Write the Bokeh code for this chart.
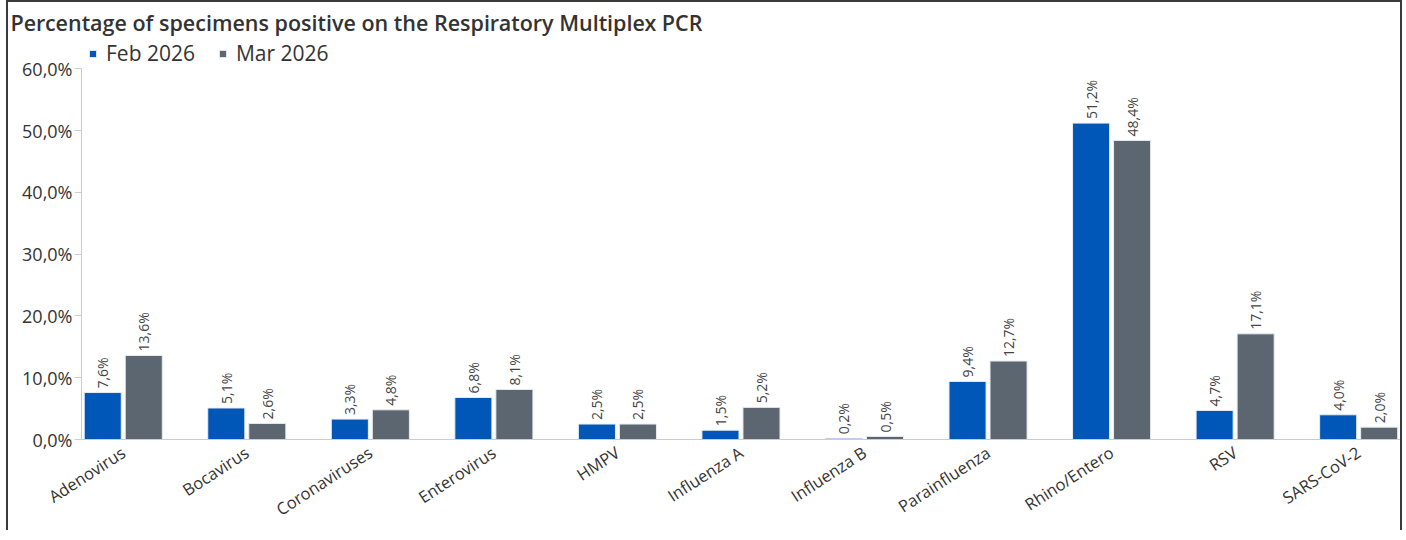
import math
from bokeh.plotting import figure
from bokeh.models import ColumnDataSource, FixedTicker, Legend, LegendItem, Range1d
from bokeh.core.properties import value
from bokeh.embed import file_html
from bokeh.resources import INLINE

categories = ["Adenovirus", "Bocavirus", "Coronaviruses", "Enterovirus", "HMPV",
              "Influenza A", "Influenza B", "Parainfluenza", "Rhino/Entero", "RSV", "SARS-CoV-2"]
feb_2026 = [7.6, 5.1, 3.3, 6.8, 2.5, 1.5, 0.2, 9.4, 51.2, 4.7, 4.0]
mar_2026 = [13.6, 2.6, 4.8, 8.1, 2.5, 5.2, 0.5, 12.7, 48.4, 17.1, 2.0]
series_names = ["Feb 2026", "Mar 2026"]
y_ticks = [0, 10, 20, 30, 40, 50, 60]
y_tick_labels = ["0,0%", "10,0%", "20,0%", "30,0%", "40,0%", "50,0%", "60,0%"]

BLUE = "#0057B8"
GREY = "#5C6670"
TXT = "#333333"
FONT = "Open Sans"

def fmt(v):
    return f"{v:.1f}".replace(".", ",") + "%"

idx = list(range(len(categories)))
off = 0.166
bw = 0.30
src_feb = ColumnDataSource(dict(x=[i - off for i in idx], top=feb_2026,
                                lab=[fmt(v) for v in feb_2026]))
src_mar = ColumnDataSource(dict(x=[i + off for i in idx], top=mar_2026,
                                lab=[fmt(v) for v in mar_2026]))

p = figure(width=1396, height=530, output_backend="svg", toolbar_location=None,
           x_range=Range1d(-0.338, 10.371), y_range=Range1d(0, 64.57),
           min_border_left=73, min_border_right=0, min_border_bottom=93,
           min_border_top=0)
p.styles = {"border-left": "2px solid #3a3a3a", "border-top": "2px solid #3a3a3a",
            "border-right": "2px solid #3a3a3a", "margin-left": "6px"}

r1 = p.vbar(x="x", top="top", width=bw, source=src_feb, fill_color=BLUE,
            line_color="#e8ecf2", line_width=1)
r2 = p.vbar(x="x", top="top", width=bw, source=src_mar, fill_color=GREY,
            line_color="#e8ecf2", line_width=1)

for src in (src_feb, src_mar):
    p.text(x="x", y="top", text="lab", source=src, angle=math.pi / 2,
           text_align="left", text_baseline="middle", y_offset=-4,
           text_font=value(FONT), text_font_size="14px", text_color="#444444")

p.title.text = "Percentage of specimens positive on the Respiratory Multiplex PCR"
p.title.text_font = "Open Sans SemiBold, Open Sans"
p.title.text_font_size = "21.5px"
p.title.text_font_style = "normal"
p.title.text_color = TXT
p.title.align = "left"
p.title.offset = -71
p.title.standoff = 7

legend = Legend(items=[LegendItem(label=series_names[0], renderers=[r1]),
                       LegendItem(label=series_names[1], renderers=[r2])],
                orientation="horizontal", location=(7, 372))
legend.label_text_font = FONT
legend.label_text_font_size = "21px"
legend.label_text_color = TXT
legend.glyph_width = 9
legend.glyph_height = 9
legend.label_standoff = 9
legend.spacing = 23
legend.padding = 0
legend.border_line_color = None
legend.background_fill_alpha = 0
p.add_layout(legend)

p.xgrid.visible = False
p.ygrid.visible = False
p.outline_line_color = None

p.yaxis.ticker = FixedTicker(ticks=y_ticks)
p.yaxis.bounds = (y_ticks[0], y_ticks[-1])
p.yaxis.major_label_overrides = {t: l for t, l in zip(y_ticks, y_tick_labels)}
p.yaxis.major_label_text_font = FONT
p.yaxis.major_label_text_font_size = "18px"
p.yaxis.major_label_text_color = TXT
p.yaxis.axis_line_color = "#cccccc"
p.yaxis.major_tick_line_color = "#cccccc"
p.yaxis.major_tick_out = 7
p.yaxis.major_tick_in = 0
p.yaxis.minor_tick_line_color = None
p.yaxis.major_label_standoff = 2

p.xaxis.ticker = FixedTicker(ticks=idx)
p.xaxis.major_label_overrides = {i: c for i, c in zip(idx, categories)}
p.xaxis.major_label_orientation = 0.576
p.xaxis.major_label_text_font = FONT
p.xaxis.major_label_text_font_size = "16.5px"
p.xaxis.major_label_text_color = TXT
p.xaxis.axis_line_color = "#cccccc"
p.xaxis.major_tick_line_color = None
p.xaxis.minor_tick_line_color = None
p.xaxis.major_label_standoff = 5

open("out.html", "w").write(file_html(p, INLINE))
